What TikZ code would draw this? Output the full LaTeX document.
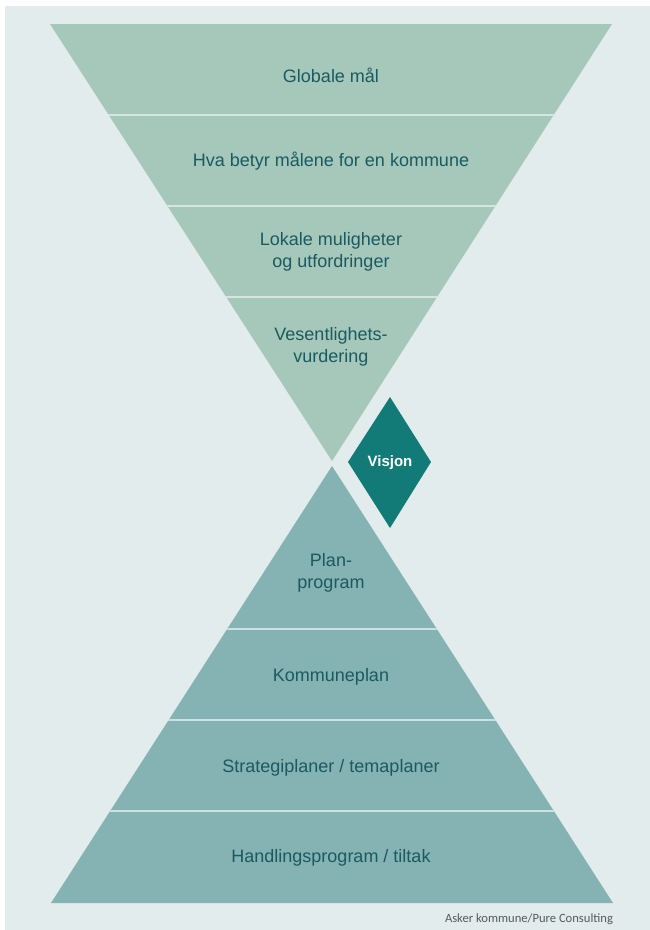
\documentclass[tikz,border=0pt]{standalone}
\usepackage{fontspec}
\setmainfont{Liberation Sans}
\newfontfamily\creditfont{Carlito}
\usetikzlibrary{shapes.geometric}
\definecolor{bgc}{HTML}{E2ECEC}
\definecolor{topc}{HTML}{A5C8BA}
\definecolor{topsep}{HTML}{D4E6DF}
\definecolor{botc}{HTML}{85B2B3}
\definecolor{botsep}{HTML}{CCE1E1}
\definecolor{diac}{HTML}{127B78}
\definecolor{txt}{HTML}{1A5A60}
\definecolor{credc}{HTML}{555B5E}
\begin{document}
\begin{tikzpicture}[x=1pt,y=-1pt,
  lbl/.style={text=txt, font=\fontsize{18}{22}\selectfont, align=center, inner sep=0pt},
  sepline/.style={line width=2.5pt}]
\useasboundingbox (0,0) rectangle (650,930);
\fill[white] (0,0) rectangle (650,930);
\fill[bgc] (5,6) rectangle (651,931);
% top inverted triangle
\coordinate (tl) at (50,24);
\coordinate (tr) at (612,24);
\coordinate (ta) at (332,461);
\fill[topc] (tl) -- (tr) -- (ta) -- cycle;
\begin{scope}
  \clip (tl) -- (tr) -- (ta) -- cycle;
  \draw[sepline, topsep] (0,115) -- (650,115);
  \draw[sepline, topsep] (0,206) -- (650,206);
  \draw[sepline, topsep] (0,297) -- (650,297);
\end{scope}
% bottom triangle
\coordinate (bl) at (51,903);
\coordinate (br) at (613,903);
\coordinate (ba) at (332,466);
\fill[botc] (bl) -- (br) -- (ba) -- cycle;
\begin{scope}
  \clip (bl) -- (br) -- (ba) -- cycle;
  \draw[sepline, botsep] (0,629) -- (650,629);
  \draw[sepline, botsep] (0,720) -- (650,720);
  \draw[sepline, botsep] (0,811) -- (650,811);
\end{scope}
% diamond
\coordinate (dt) at (390,397);
\coordinate (dr) at (431,462);
\coordinate (db) at (390,528);
\coordinate (dl) at (348,462);
\fill[diac] (dt) -- (dr) -- (db) -- (dl) -- cycle;
\node[text=white, font=\bfseries\fontsize{15}{17}\selectfont, inner sep=0pt] (visjon) at (390,463) {Visjon};
% labels top
\node[lbl] (g1) at (331,75) {Globale mål};
\node[lbl] (g2) at (331,161) {Hva betyr målene for en kommune};
\node[lbl] (g3) at (331,252) {Lokale muligheter\\og utfordringer};
\node[lbl] (g4) at (331,347) {Vesentlighets-\\vurdering};
% labels bottom
\node[lbl] (p1) at (331,573) {Plan-\\program};
\node[lbl] (p2) at (331,677) {Kommuneplan};
\node[lbl] (p3) at (331,768) {Strategiplaner / temaplaner};
\node[lbl] (p4) at (331,858) {Handlingsprogram / tiltak};
% credit
\node[text=credc, font=\creditfont\fontsize{12.6}{14}\selectfont, inner sep=0pt] (credit) at (529,919) {Asker kommune/Pure Consulting};
\end{tikzpicture}
\end{document}
